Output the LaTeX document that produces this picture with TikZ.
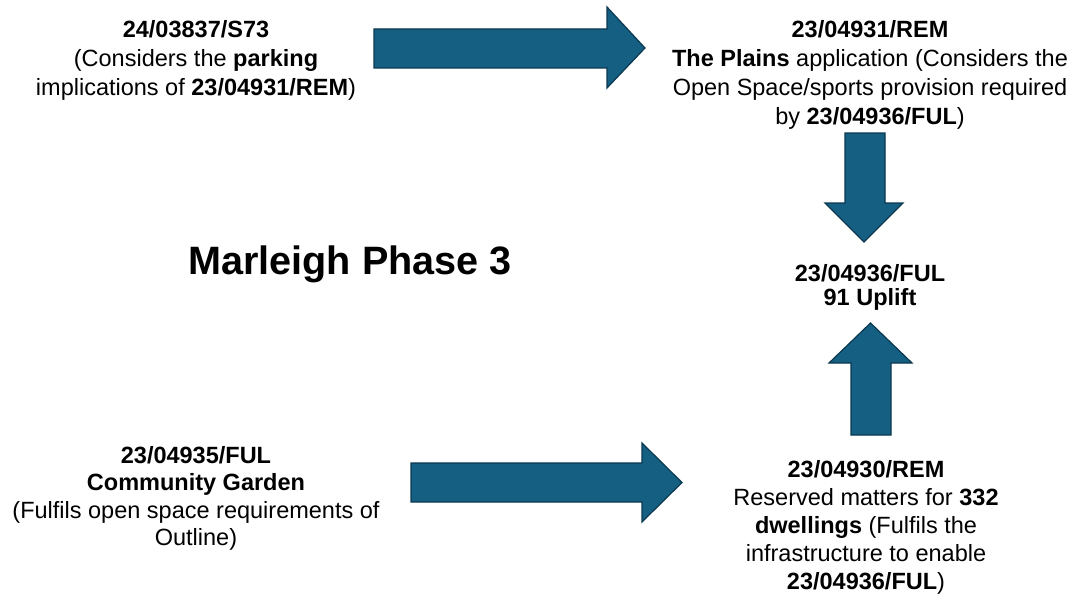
\documentclass[tikz,border=0pt]{standalone}
\usepackage{fontspec}
\setmainfont{Liberation Sans}
\definecolor{arrowfill}{HTML}{156082}
\definecolor{arrowedge}{HTML}{0B3950}
\begin{document}
\begin{tikzpicture}[x=1pt,y=-1pt,
  blockarrow/.style={fill=arrowfill,draw=arrowedge,line width=1.2pt,line join=miter},
  lbl/.style={align=center,inner sep=0pt,anchor=north,font=\fontsize{23.5}{29}\selectfont},
  title/.style={inner sep=0pt,anchor=base,font=\fontsize{39.6}{46}\selectfont\bfseries}]
\useasboundingbox (0,0) rectangle (1073,594);

% block arrows
\draw[blockarrow] (374,29) -- (607,29) -- (607,7) -- (645,48) -- (607,88) -- (607,68) -- (374,68) -- cycle;
\draw[blockarrow] (845,133) -- (885,133) -- (885,203) -- (903,203) -- (864,242) -- (825,203) -- (845,203) -- cycle;
\draw[blockarrow] (411,463) -- (642,463) -- (642,443) -- (682,482.5) -- (642,522) -- (642,502) -- (411,502) -- cycle;
\draw[blockarrow] (851,435) -- (851,363) -- (829,363) -- (870.5,323) -- (912,363) -- (891,363) -- (891,435) -- cycle;

% texts
\node[lbl] (s73) at (196,20) {\textbf{24/03837/S73}\\(Considers the \textbf{parking}\\implications of \textbf{23/04931/REM})};
\node[lbl] (plains) at (870,20) {\textbf{23/04931/REM}\\\textbf{The Plains} application (Considers the\\Open Space/sports provision required\\by \textbf{23/04936/FUL})};
\node[title] (ttl) at (350,274) {Marleigh Phase 3};
\node[lbl,font=\fontsize{23.5}{24}\selectfont\bfseries] (uplift) at (870,264) {23/04936/FUL\\91 Uplift};
\node[lbl,font=\fontsize{23.5}{27.5}\selectfont] (garden) at (196,446) {\textbf{23/04935/FUL}\\\textbf{Community Garden}\\(Fulfils open space requirements of\\Outline)};
\node[lbl,font=\fontsize{23.5}{28}\selectfont] (rem) at (866,460) {\textbf{23/04930/REM}\\Reserved matters for \textbf{332}\\\textbf{dwellings} (Fulfils the\\infrastructure to enable\\\textbf{23/04936/FUL})};
\end{tikzpicture}
\end{document}
